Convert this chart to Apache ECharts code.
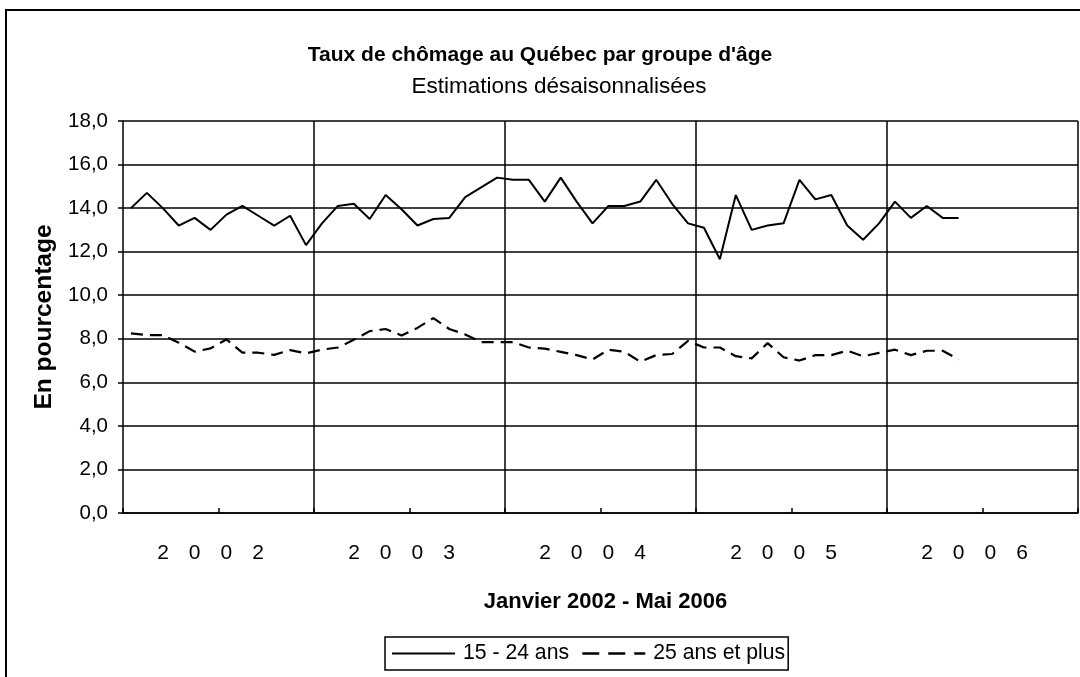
<!DOCTYPE html>
<html>
<head>
<meta charset="utf-8">
<script src="https://cdn.jsdelivr.net/npm/echarts@6/dist/echarts.min.js"></script>
<style>
  html, body { margin: 0; padding: 0; background: #fff; }
  #chart { width: 1080px; height: 677px; }
</style>
</head>
<body>
<div id="chart"></div>
<script>
// Months Jan 2002 .. Dec 2006 (60 category slots; data run to May 2006)
const years = ['2002', '2003', '2004', '2005', '2006'];
const monthNames = ['jan', 'fév', 'mar', 'avr', 'mai', 'juin', 'juil', 'août', 'sep', 'oct', 'nov', 'déc'];

// 15 - 24 ans
const youth = [
  14.0, 14.7, 14.0, 13.2, 13.55, 13.0, 13.7, 14.1, 13.65, 13.2, 13.65, 12.3,
  13.3, 14.1, 14.2, 13.5, 14.6, 13.95, 13.2, 13.5, 13.55, 14.5, 14.95, 15.4,
  15.3, 15.3, 14.3, 15.4, 14.3, 13.3, 14.1, 14.1, 14.3, 15.3, 14.2, 13.3,
  13.1, 11.65, 14.6, 13.0, 13.2, 13.3, 15.3, 14.4, 14.6, 13.2, 12.55, 13.3,
  14.3, 13.55, 14.1, 13.55, 13.55
];

// 25 ans et plus
const adults = [
  8.25, 8.17, 8.17, 7.82, 7.41, 7.56, 7.97, 7.36, 7.36, 7.26, 7.48, 7.33,
  7.5, 7.6, 7.95, 8.35, 8.45, 8.15, 8.5, 8.95, 8.45, 8.2, 7.85, 7.85,
  7.85, 7.6, 7.55, 7.4, 7.25, 7.05, 7.5, 7.4, 6.95, 7.25, 7.3, 7.9,
  7.6, 7.6, 7.2, 7.1, 7.8, 7.15, 7.0, 7.25, 7.25, 7.45, 7.2, 7.35,
  7.5, 7.25, 7.45, 7.45, 7.05
];

const seriesNames = ['15 - 24 ans', '25 ans et plus'];
const yTicks = [0, 2, 4, 6, 8, 10, 12, 14, 16, 18];

const categories = [];
years.forEach(y => monthNames.forEach(m => categories.push(m + ' ' + y)));

const FONT = '"Liberation Sans", Arial, sans-serif';

const chart = echarts.init(document.getElementById('chart'), null, { renderer: 'canvas' });

const digitRich = { d: { width: 31.7, align: 'center', fontSize: 21, fontFamily: FONT, color: '#000' } };

chart.setOption({
  backgroundColor: '#fff',
  animation: false,
  textStyle: { fontFamily: FONT, color: '#000' },
  graphic: [{
    type: 'rect',
    shape: { x: 6, y: 10, width: 1090, height: 700 },
    style: { fill: 'none', stroke: '#000', lineWidth: 2 },
    silent: true
  }],
  title: [{
    text: "Taux de chômage au Québec par groupe d'âge",
    left: 540, top: 45, textAlign: 'center', padding: 0,
    textStyle: { fontFamily: FONT, fontSize: 21, fontWeight: 'bold', color: '#000' }
  }, {
    text: 'Estimations désaisonnalisées',
    left: 559, top: 75, textAlign: 'center', padding: 0,
    textStyle: { fontFamily: FONT, fontSize: 22.5, fontWeight: 'normal', color: '#000' }
  }],
  legend: {
    data: [
      { name: seriesNames[0] },
      { name: seriesNames[1], lineStyle: { type: [17, 9], width: 2.5 } }
    ],
    left: 385, top: 637,
    padding: [6, 3, 6, 6],
    itemWidth: 63, itemHeight: 14, itemGap: 12,
    borderColor: '#000', borderWidth: 1.5, borderRadius: 0,
    backgroundColor: '#fff',
    itemStyle: { opacity: 0 },
    textStyle: { fontFamily: FONT, fontSize: 21.2, color: '#000', padding: [0, 0, 0, 3] }
  },
  grid: { left: 123, right: 2, top: 121, bottom: 164, containLabel: false, outerBoundsMode: 'none' },
  xAxis: {
    type: 'category',
    data: categories,
    boundaryGap: true,
    name: 'Janvier 2002 - Mai 2006',
    nameLocation: 'middle',
    nameGap: 78,
    nameTextStyle: { fontFamily: FONT, fontSize: 22, fontWeight: 'bold', color: '#000', padding: [0, 0, 0, 10] },
    axisLine: { lineStyle: { color: '#000', width: 1.5 } },
    axisTick: { show: true, inside: true, length: 5, interval: (i) => i % 6 === 0, lineStyle: { color: '#000', width: 1.5 } },
    axisLabel: {
      interval: (i) => i % 12 === 5,
      margin: 30,
      formatter: (v, i) => years[Math.floor(i / 12)].split('').map(c => '{d|' + c + '}').join(''),
      rich: digitRich
    },
    splitLine: { show: true, interval: (i) => i % 12 === 0 && i > 0, lineStyle: { color: '#000', width: 1.5 } }
  },
  yAxis: {
    type: 'value',
    min: yTicks[0], max: yTicks[yTicks.length - 1], interval: 2,
    name: 'En pourcentage',
    nameLocation: 'middle',
    nameGap: 66,
    nameTextStyle: { fontFamily: FONT, fontSize: 24.5, fontWeight: 'bold', color: '#000' },
    axisLine: { show: true, lineStyle: { color: '#000', width: 1.5 } },
    axisTick: { show: true, length: 5, lineStyle: { color: '#000', width: 1.5 } },
    axisLabel: {
      margin: 15,
      fontFamily: FONT, fontSize: 20.5, color: '#000',
      formatter: (v) => v.toFixed(1).replace('.', ',')
    },
    splitLine: { show: true, lineStyle: { color: '#000', width: 1.5 } }
  },
  series: [{
    name: seriesNames[0],
    type: 'line',
    data: youth,
    symbol: 'none',
    lineStyle: { color: '#000', width: 2, type: 'solid' },
    itemStyle: { color: '#000' }
  }, {
    name: seriesNames[1],
    type: 'line',
    data: adults,
    symbol: 'none',
    lineStyle: { color: '#000', width: 2.2, type: [12, 7] },
    itemStyle: { color: '#000' }
  }]
});
</script>
</body>
</html>
